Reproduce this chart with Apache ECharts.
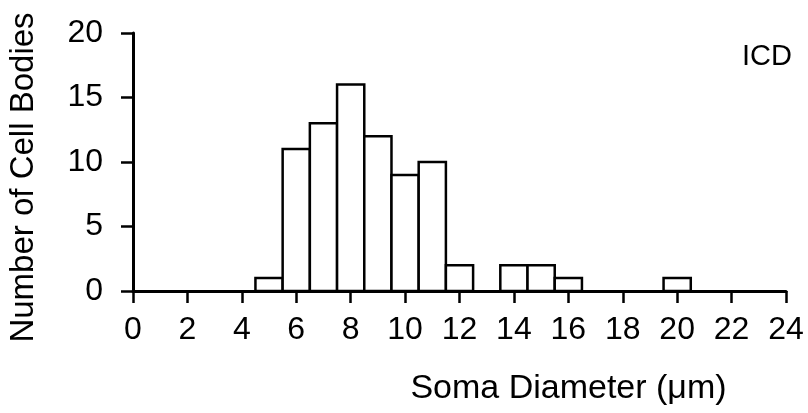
<!DOCTYPE html>
<html>
<head>
<meta charset="utf-8">
<script src="https://cdn.jsdelivr.net/npm/echarts@6/dist/echarts.min.js"></script>
<style>html,body{margin:0;padding:0;background:#fff}#c{width:808px;height:413px}</style>
</head>
<body>
<div id="c"></div>
<script>
const binCenters = [5, 6, 7, 8, 9, 10, 11, 12, 14, 15, 16, 20];
const cellCounts = [1, 11, 13, 16, 12, 9, 10, 2, 2, 2, 1, 1];
const xTicks = [0, 2, 4, 6, 8, 10, 12, 14, 16, 18, 20, 22, 24];
const yTicks = [0, 5, 10, 15, 20];
const binWidth = 1;

const chart = echarts.init(document.getElementById('c'), null, {renderer: 'canvas'});
const font = '"Liberation Sans Narrow", "Liberation Sans", Arial, sans-serif';

chart.setOption({
  backgroundColor: '#fff',
  animation: false,
  title: {
    text: 'ICD',
    left: 742,
    top: 42,
    padding: 0,
    textStyle: {fontFamily: font, fontSize: 29, fontWeight: 'normal', color: '#000'}
  },
  grid: {left: 133, right: 22, top: 33, bottom: 122, containLabel: false, outerBoundsMode: 'none'},
  xAxis: {
    type: 'value',
    min: xTicks[0],
    max: xTicks[xTicks.length - 1],
    interval: xTicks[1] - xTicks[0],
    name: 'Soma Diameter (\u03bcm)',
    nameLocation: 'middle',
    nameGap: 81,
    nameTextStyle: {fontFamily: font, fontSize: 34, color: '#000', padding: [0, 0, 0, 218]},
    axisLine: {lineStyle: {color: '#000', width: 3}},
    axisTick: {length: 12, lineStyle: {color: '#000', width: 2.5}},
    axisLabel: {fontFamily: font, fontSize: 32, color: '#000', margin: 23},
    splitLine: {show: false}
  },
  yAxis: {
    type: 'value',
    min: yTicks[0],
    max: yTicks[yTicks.length - 1],
    interval: yTicks[1] - yTicks[0],
    name: 'Number of Cell Bodies',
    nameLocation: 'middle',
    nameGap: 93,
    nameRotate: 90,
    nameTextStyle: {fontFamily: font, fontSize: 33, color: '#000', padding: [0, 31, 0, 0]},
    axisLine: {show: true, lineStyle: {color: '#000', width: 3}},
    axisTick: {show: true, length: 12, lineStyle: {color: '#000', width: 2.5}},
    axisLabel: {fontFamily: font, fontSize: 32, color: '#000', margin: 30, padding: [4, 0, 0, 0]},
    splitLine: {show: false}
  },
  series: [{
    type: 'custom',
    data: binCenters.map((c, i) => [c, cellCounts[i]]),
    encode: {x: 0, y: 1},
    renderItem: function (params, api) {
      const c = api.value(0), v = api.value(1);
      const p0 = api.coord([c - binWidth / 2, 0]);
      const p1 = api.coord([c + binWidth / 2, v]);
      return {
        type: 'rect',
        shape: {x: p0[0], y: p1[1], width: p1[0] - p0[0], height: p0[1] - p1[1]},
        style: {fill: '#fff', stroke: '#000', lineWidth: 2.5}
      };
    }
  }]
});
</script>
</body>
</html>
